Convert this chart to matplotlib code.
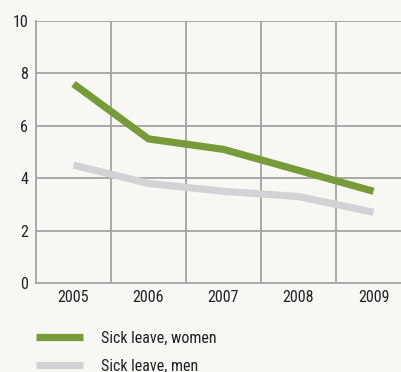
import matplotlib
matplotlib.use("Agg")
import matplotlib.pyplot as plt
from matplotlib.lines import Line2D

years = ["2005", "2006", "2007", "2008", "2009"]
women = [7.6, 5.5, 5.1, 4.3, 3.5]
men = [4.5, 3.8, 3.5, 3.3, 2.7]
yticks = [0, 2, 4, 6, 8, 10]

W, H = 402, 372
bg = "#f7f7f3"
plt.rcParams['font.family'] = ['Roboto Condensed', 'Open Sans', 'DejaVu Sans']
fig = plt.figure(figsize=(W / 100, H / 100), dpi=100, facecolor=bg)

left, right, top, bottom = 36, 411, 21, 283
ax = fig.add_axes([left / W, 1 - bottom / H, (right - left) / W, (bottom - top) / H])
ax.set_facecolor(bg)

x = list(range(len(years)))
green = "#789b3a"
grey = "#d3d3d5"
ax.plot(x, men, color=grey, lw=5.2, solid_capstyle="butt", solid_joinstyle="miter", zorder=3)
ax.plot(x, women, color=green, lw=5.2, solid_capstyle="butt", solid_joinstyle="miter", zorder=4)

ax.set_xlim(-0.5, len(years) - 0.5)
ax.set_ylim(0, 10)
ax.set_yticks(yticks)
ax.set_yticklabels([str(v) for v in yticks])
ax.set_xticks(x)
ax.set_xticklabels(years)
gc = "#a3a3a3"
for xb in [i + 0.5 for i in range(len(years) - 1)]:
    ax.axvline(xb, color=gc, lw=1.3, zorder=1)
for yv in yticks[1:]:
    ax.axhline(yv, color=gc, lw=1.3, zorder=1)
for s in ["top", "right"]:
    ax.spines[s].set_visible(False)
for s in ["left", "bottom"]:
    ax.spines[s].set_color(gc)
    ax.spines[s].set_linewidth(1.3)
fs = 11.5
ax.tick_params(axis="both", length=0, labelsize=fs, colors="#222222")
ax.tick_params(axis="y", pad=5.5)
ax.tick_params(axis="x", pad=5)

handles = [Line2D([0], [0], color=green, lw=5.2, solid_capstyle="butt"),
           Line2D([0], [0], color=grey, lw=5.2, solid_capstyle="butt")]
fig.legend(handles, ["Sick leave, women", "Sick leave, men"], loc="upper left",
           bbox_to_anchor=(36 / W, 1 - 331 / H), frameon=False, fontsize=fs,
           borderpad=0, borderaxespad=0,
           handlelength=2.94, handletextpad=1.13, labelspacing=0.8,
           labelcolor="#222222")

fig.savefig("out.png", dpi=100, facecolor=bg)
